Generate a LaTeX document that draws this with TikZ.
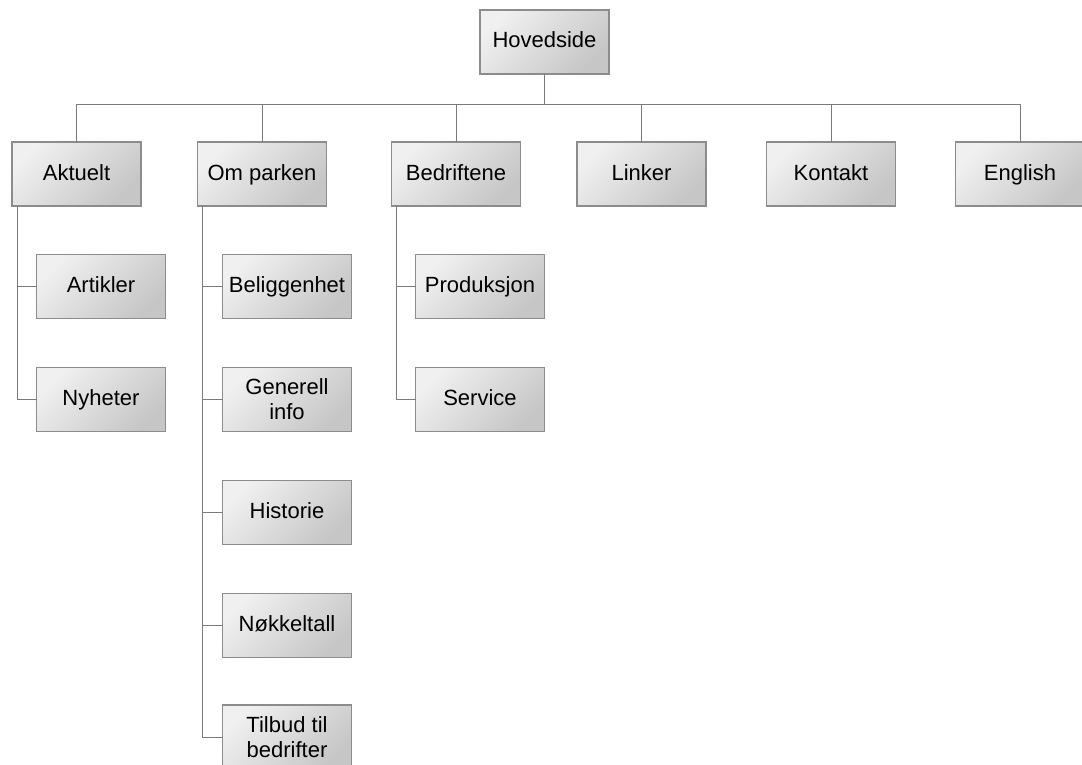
\documentclass[tikz,border=0pt]{standalone}
\usepackage{fontspec}
\setmainfont{Liberation Sans}
\definecolor{boxlight}{HTML}{F0F0F0}
\definecolor{boxdark}{HTML}{C6C6C6}
\definecolor{boxline}{HTML}{8C8C8C}
\definecolor{linkline}{HTML}{7A7A7A}

\begin{document}
\begin{tikzpicture}[x=0.5pt,y=-0.5pt,
    box/.style={draw=boxline,line width=0.6pt,top color=boxlight,bottom color=boxdark,
      shading angle=45,minimum width=64.5pt,minimum height=32pt,inner sep=0pt,
      outer sep=0pt,align=center,font=\fontsize{11}{12.5}\selectfont},
    onebox/.style={box,text height=8pt,text depth=2pt},
    link/.style={draw=linkline,line width=0.5pt}]
  \useasboundingbox (0,0) rectangle (1082,765);
  % top
  \node[onebox] (hoved) at (544.5,42){Hovedside};
  % first level
  \node[onebox] (aktuelt) at (76.5,174){Aktuelt};
  \node[onebox] (omparken) at (262,174){Om parken};
  \node[onebox] (bedriftene) at (456,174){Bedriftene};
  \node[onebox] (linker) at (641.5,174){Linker};
  \node[onebox] (kontakt) at (831,174){Kontakt};
  \node[onebox] (english) at (1020,174){English};
  % second level
  \node[onebox] (artikler) at (101,286.5){Artikler};
  \node[onebox] (nyheter) at (101,399.5){Nyheter};
  \node[onebox] (beligg) at (287,286.5){Beliggenhet};
  \node[box] (generell) at (287,399.5){Generell\\info};
  \node[onebox] (historie) at (287,512.5){Historie};
  \node[onebox] (nokkel) at (287,625.5){Nøkkeltall};
  \node[box] (tilbud) at (287,737){Tilbud til\\bedrifter};
  \node[onebox] (produksjon) at (480,286.5){Produksjon};
  \node[onebox] (service) at (480,399.5){Service};
  % links
  \foreach \n in {aktuelt,omparken,bedriftene,linker,kontakt,english}
    \draw[link] (hoved.south) -- ++(0,31) -| (\n.north);
  \foreach \n in {artikler,nyheter}
    \draw[link] (aktuelt.south west) ++(5,0) |- (\n.west);
  \foreach \n in {beligg,generell,historie,nokkel,tilbud}
    \draw[link] (omparken.south west) ++(5,0) |- (\n.west);
  \foreach \n in {produksjon,service}
    \draw[link] (bedriftene.south west) ++(5,0) |- (\n.west);
\end{tikzpicture}
\end{document}
